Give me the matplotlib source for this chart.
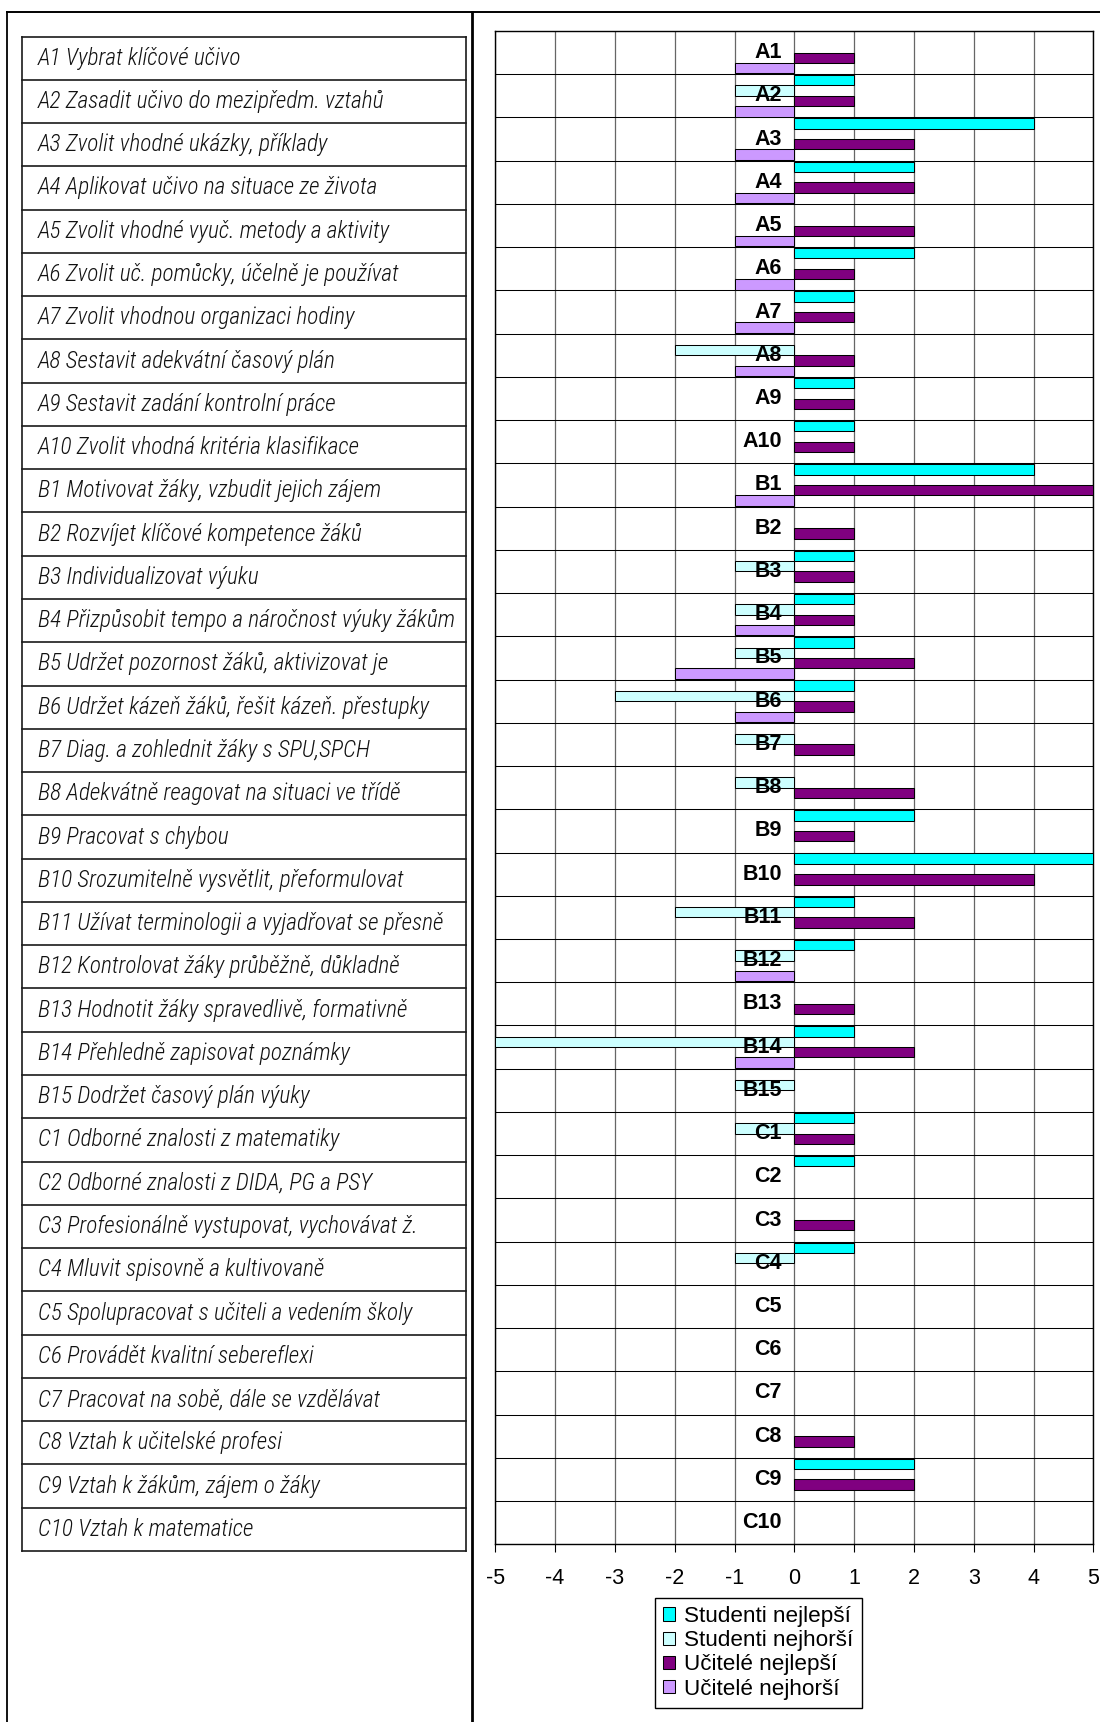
import numpy as np
import matplotlib
matplotlib.use("Agg")
import matplotlib.pyplot as plt
from matplotlib import font_manager
from matplotlib.lines import Line2D
from matplotlib.patches import Patch

# ---- data -------------------------------------------------------------
codes = ["A1", "A2", "A3", "A4", "A5", "A6", "A7", "A8", "A9", "A10",
         "B1", "B2", "B3", "B4", "B5", "B6", "B7", "B8", "B9", "B10",
         "B11", "B12", "B13", "B14", "B15",
         "C1", "C2", "C3", "C4", "C5", "C6", "C7", "C8", "C9", "C10"]

descriptions = [
    "A1 Vybrat klíčové učivo",
    "A2 Zasadit učivo do mezipředm. vztahů",
    "A3 Zvolit vhodné ukázky, příklady",
    "A4 Aplikovat učivo na situace ze života",
    "A5 Zvolit vhodné vyuč. metody a aktivity",
    "A6 Zvolit uč. pomůcky, účelně je používat",
    "A7 Zvolit vhodnou organizaci hodiny",
    "A8 Sestavit adekvátní časový plán",
    "A9 Sestavit zadání kontrolní práce",
    "A10 Zvolit vhodná kritéria klasifikace",
    "B1 Motivovat žáky, vzbudit jejich zájem",
    "B2 Rozvíjet klíčové kompetence žáků",
    "B3 Individualizovat výuku",
    "B4 Přizpůsobit tempo a náročnost výuky žákům",
    "B5 Udržet pozornost žáků, aktivizovat je",
    "B6 Udržet kázeň žáků, řešit kázeň. přestupky",
    "B7 Diag. a zohlednit žáky s SPU,SPCH",
    "B8 Adekvátně reagovat na situaci ve třídě",
    "B9 Pracovat s chybou",
    "B10 Srozumitelně vysvětlit, přeformulovat",
    "B11 Užívat terminologii a vyjadřovat se přesně",
    "B12 Kontrolovat žáky průběžně, důkladně",
    "B13 Hodnotit žáky spravedlivě, formativně",
    "B14 Přehledně zapisovat poznámky",
    "B15 Dodržet časový plán výuky",
    "C1 Odborné znalosti z matematiky",
    "C2 Odborné znalosti z DIDA, PG a PSY",
    "C3 Profesionálně vystupovat, vychovávat ž.",
    "C4 Mluvit spisovně a kultivovaně",
    "C5 Spolupracovat s učiteli a vedením školy",
    "C6 Provádět kvalitní sebereflexi",
    "C7 Pracovat na sobě, dále se vzdělávat",
    "C8 Vztah k učitelské profesi",
    "C9 Vztah k žákům, zájem o žáky",
    "C10 Vztah k matematice",
]

studenti_nejlepsi = [0, 1, 4, 2, 0, 2, 1, 0, 1, 1,
                     4, 0, 1, 1, 1, 1, 0, 0, 2, 5,
                     1, 1, 0, 1, 0,
                     1, 1, 0, 1, 0, 0, 0, 0, 2, 0]
studenti_nejhorsi = [0, -1, 0, 0, 0, 0, 0, -2, 0, 0,
                     0, 0, -1, -1, -1, -3, -1, -1, 0, 0,
                     -2, -1, 0, -5, -1,
                     -1, 0, 0, -1, 0, 0, 0, 0, 0, 0]
ucitele_nejlepsi = [1, 1, 2, 2, 2, 1, 1, 1, 1, 1,
                    5, 1, 1, 1, 2, 1, 1, 2, 1, 4,
                    2, 0, 1, 2, 0,
                    1, 0, 1, 0, 0, 0, 0, 1, 2, 0]
ucitele_nejhorsi = [-1, -1, -1, -1, -1, -1, -1, -1, 0, 0,
                    -1, 0, 0, -1, -2, -1, 0, 0, 0, 0,
                    0, -1, 0, -1, 0,
                    0, 0, 0, 0, 0, 0, 0, 0, 0, 0]

series_names = ["Studenti nejlepší", "Studenti nejhorší",
                "Učitelé nejlepší", "Učitelé nejhorší"]
x_ticks = [-5, -4, -3, -2, -1, 0, 1, 2, 3, 4, 5]

# ---- style --------------------------------------------------------------
series_colors = ["#00FFFF", "#CCFFFF", "#800080", "#CC99FF"]
plt.rcParams["font.family"] = ["Liberation Sans", "DejaVu Sans"]
plt.rcParams["axes.unicode_minus"] = False


def narrow_font():
    """Return (family, stretch) of an installed narrow sans face, if any."""
    preferred = ["Liberation Sans Narrow", "Arial Narrow",
                 "Roboto Condensed", "Open Sans Condensed"]
    names = {f.name for f in font_manager.fontManager.ttflist}
    for name in preferred:
        if name in names:
            return name, "normal"
    for f in font_manager.fontManager.ttflist:
        st = str(f.stretch).lower()
        if "condensed" in st and "mono" not in f.name.lower() \
                and "serif" not in f.name.lower():
            return f.name, f.stretch
    return None, None


nf_name, nf_stretch = narrow_font()
if nf_name is not None:
    row_family, row_stretch, row_size, row_weight = \
        [nf_name, "DejaVu Sans"], nf_stretch, 16.8, "light"
else:
    row_family, row_stretch, row_size, row_weight = \
        ["Liberation Sans", "DejaVu Sans"], "normal", 14, "normal"

W, H = 1100, 1722
fig = plt.figure(figsize=(W / 100, H / 100), dpi=100)
fig.patch.set_facecolor("white")


def fx(px):
    return px / W


def fy(py):
    return 1 - py / H


# ---- outer frames -------------------------------------------------------
fig.add_artist(Line2D([fx(7.3), fx(W)], [fy(11.5), fy(11.5)],
                      color="black", lw=1.4))
fig.add_artist(Line2D([fx(7.3), fx(7.3)], [fy(11.5), fy(H)],
                      color="black", lw=1.3))
fig.add_artist(Line2D([fx(472), fx(472)], [fy(11.5), fy(H)],
                      color="black", lw=2.0))

# ---- description table (left panel) ------------------------------------
n = len(codes)
tab = fig.add_axes([fx(21.7), fy(1551), fx(465.7) - fx(21.7),
                    fy(36.5) - fy(1551)])
tab.set_xlim(0, 1)
tab.set_ylim(n, 0)
tab.axis("off")
for k in range(n + 1):
    tab.axhline(k, color="#1a1a1a", lw=1.2, clip_on=False)
for xv in (0, 1):
    tab.axvline(xv, color="#1a1a1a", lw=1.2, clip_on=False)
for k, txt in enumerate(descriptions):
    tab.text(0.037, k + 0.5, txt, ha="left", va="center",
             fontsize=row_size, fontstyle="italic", family=row_family,
             fontstretch=row_stretch, fontweight=row_weight,
             color="#111111")

# ---- bar chart (right panel) -------------------------------------------
ax = fig.add_axes([fx(495.3), fy(1544.3), fx(1093.3) - fx(495.3),
                   fy(31) - fy(1544.3)])
y = np.arange(n)
bar_h = 0.24
offsets = [-0.36, -0.12, 0.12, 0.36]
all_series = [studenti_nejlepsi, studenti_nejhorsi,
              ucitele_nejlepsi, ucitele_nejhorsi]
for vals, off, col in zip(all_series, offsets, series_colors):
    vals = np.asarray(vals, dtype=float)
    edges = ["black" if v != 0 else "none" for v in vals]
    ax.barh(y + off, vals, height=bar_h, color=col, edgecolor=edges,
            linewidth=0.75, zorder=3)

for k, code in enumerate(codes):
    ax.text(-0.21, k, code, ha="right", va="center", fontsize=15.5,
            fontweight="bold", color="black", zorder=5)

ax.set_xlim(-5, 5)
ax.set_ylim(n - 0.5, -0.5)
ax.set_xticks(x_ticks)
ax.set_xticklabels([str(t) for t in x_ticks], fontsize=15.5)
ax.set_yticks(np.arange(-0.5, n, 1.0))
ax.set_yticklabels([])
ax.tick_params(axis="y", length=0)
ax.tick_params(axis="x", direction="out", length=6, width=0.8,
               color="black", pad=11)
ax.grid(axis="x", color="#666666", lw=0.9, zorder=0)
ax.grid(axis="y", color="black", lw=0.75, zorder=0)
ax.set_axisbelow(True)
for sp in ax.spines.values():
    sp.set_color("black")
    sp.set_linewidth(1.0)

handles = [Patch(facecolor=c, edgecolor="black", linewidth=0.75)
           for c in series_colors]
fig.legend(handles, series_names, loc="upper left",
           bbox_to_anchor=(fx(655), fy(1598)), borderaxespad=0,
           fontsize=16.2, frameon=True, fancybox=False, shadow=False,
           edgecolor="black", framealpha=1, handlelength=0.55,
           handleheight=0.55, handletextpad=0.4, labelspacing=0.14,
           borderpad=0.36)

fig.savefig("out.png", dpi=100, facecolor="white")
